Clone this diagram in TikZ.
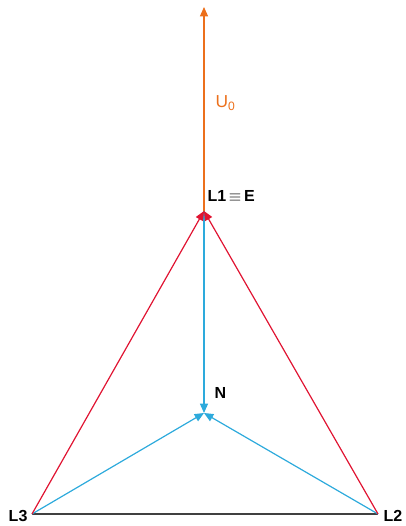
\documentclass[tikz,border=0pt]{standalone}
\usepackage{fontspec}
\setmainfont{Liberation Sans}
\usetikzlibrary{arrows.meta, positioning}
\definecolor{phasered}{RGB}{224,20,50}
\definecolor{neutblue}{RGB}{45,170,220}
\definecolor{volorange}{RGB}{236,112,28}

\begin{document}
\begin{tikzpicture}[
    x=0.75pt, y=-0.75pt,
    lbl/.style={font=\bfseries\fontsize{12}{14}\selectfont, inner sep=1pt},
    arr/.style={-{Triangle[length=7pt,width=6pt]}, line width=0.9pt},
    redarr/.style={arr, phasered},
    bluearr/.style={arr, neutblue}
]
    \useasboundingbox (0,0) rectangle (405,526);

    \coordinate (L1) at (204,211);
    \coordinate (L2) at (378,514);
    \coordinate (L3) at (32,514);
    \coordinate (N) at (204,413);
    \coordinate (top) at (204,7);

    \node[lbl, anchor=west] (l1lbl) at (206,196) {L1\,$\equiv$\,E};
    \node[lbl, anchor=west] (nlbl) at (213,393) {N};
    \node[lbl, anchor=east] (l3lbl) at (29,516) {L3};
    \node[lbl, anchor=west] (l2lbl) at (382,516) {L2};
    \node[font=\fontsize{13}{15}\selectfont, text=volorange, anchor=west] (ulbl) at (211,103) {U\textsubscript{0}};

    \draw[line width=0.9pt, black!75] (L3) -- (L2);
    \draw[arr, volorange] (L1) -- (top);
    \draw[bluearr] (L1) -- (N);
    \draw[bluearr] (L3) -- (N);
    \draw[bluearr] (L2) -- (N);
    \draw[redarr] (L3) -- (L1);
    \draw[redarr] (L2) -- (L1);
\end{tikzpicture}
\end{document}
